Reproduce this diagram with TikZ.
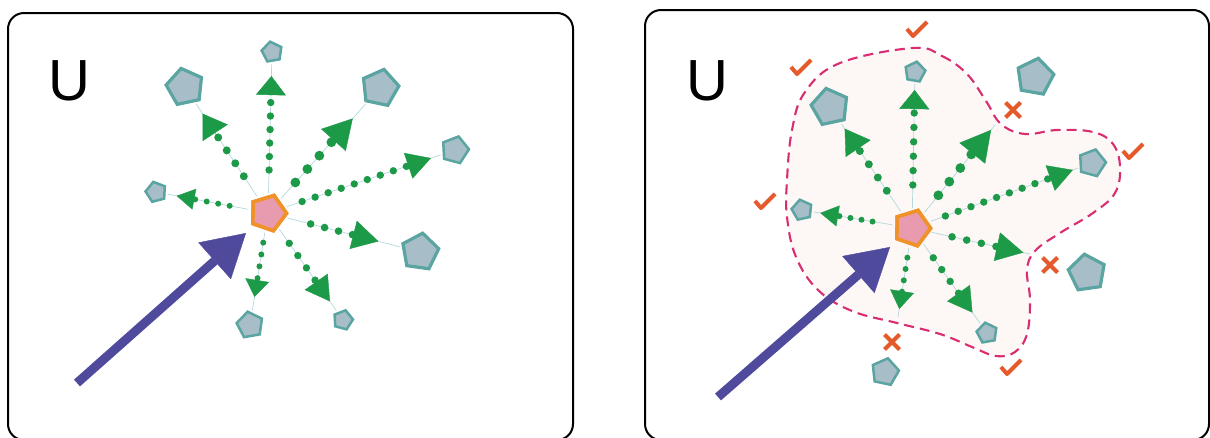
\documentclass[tikz,border=0pt]{standalone}
\usepackage{fontspec}
\setmainfont{Liberation Sans}
\usetikzlibrary{arrows.meta,shapes.geometric,calc}
\definecolor{rayg}{HTML}{1C9A48}
\definecolor{thinc}{HTML}{B3D8DE}
\definecolor{pentf}{HTML}{A7BEC8}
\definecolor{pentb}{HTML}{5AA5A2}
\definecolor{ctrf}{HTML}{E89AAE}
\definecolor{ctrb}{HTML}{F0922A}
\definecolor{bluea}{HTML}{4F4A9C}
\definecolor{markc}{HTML}{E55A2B}
\definecolor{dashc}{HTML}{D92D72}
\definecolor{blobf}{HTML}{FDF7F6}
% #1 from, #2 to, #3 first dot distance, #4 spacing, #5 last dot index,
% #6 dot radius, #7 tip distance, #8 tip length, #9 tip width
\newcommand\dotray[9]{%
  \foreach \i in {0,...,#5}{%
    \pgfmathsetmacro\dd{#3+\i*#4}%
    \fill[rayg] ($(#1)!\dd pt!(#2)$) circle (#6);%
  }%
  \pgfmathsetmacro\da{#7-#8-0.5}%
  \draw[draw=rayg, line width=0.1pt, -{Triangle[length=#8pt,width=#9pt,line width=0.4pt]}]
    ($(#1)!\da pt!(#2)$) -- ($(#1)!#7pt!(#2)$);%
}
\begin{document}
\begin{tikzpicture}[x=1pt,y=-1pt,
  panel/.style={draw=black, line width=2pt, rounded corners=16pt},
  pent/.style={regular polygon, regular polygon sides=5, draw=pentb, fill=pentf, inner sep=0pt, line width=3.2pt, minimum size=#1},
  spent/.style={pent=#1, line width=2.5pt},
  ctr/.style={regular polygon, regular polygon sides=5, draw=ctrb, fill=ctrf, inner sep=0pt, line width=3.6pt, minimum size=37pt, rotate=-19},
  thinl/.style={draw=thinc, line width=0.7pt},
  bluearrow/.style={draw=bluea, line width=9pt, -{Triangle[length=42pt,width=49pt,line width=0.4pt]}},
  letter/.style={font=\fontsize{58}{58}\selectfont, inner sep=0pt, anchor=base west},
  markl/.style={draw=markc, line width=4pt, line join=round},
  blob/.style={draw=dashc, fill=blobf, line width=2.1pt, dash pattern=on 10pt off 6pt},
  chkmark/.pic={\draw[markl] (-9,-1) -- (-3,6) -- (11,-8);},
  xmark/.pic={\draw[markl] (-7.5,-7.5) -- (7.5,7.5) (-7.5,7.5) -- (7.5,-7.5);}
]
\useasboundingbox (0,0) rectangle (1210,437);

% ---------- panels ----------
\draw[panel] (8,13) rectangle (573,440);
\draw[panel] (645,10) rectangle (1209,440);
\node[letter] (U1) at (48.5,100) {U};
\node[letter] (U2) at (686,100) {U};

% ---------- right blob ----------
\draw[blob] plot[smooth cycle, tension=0.65] coordinates {
 (913,48) (942,56) (967,74) (986,101) (1001,124) (1025,134) (1057,130)
 (1093,132) (1113,144) (1120,167) (1115,193) (1093,213) (1060,233)
 (1035,251) (1027,270) (1030,300) (1027,334) (1015,352) (996,356)
 (972,347) (940,334) (897,323) (852,311) (818,290) (796,257) (787,217)
 (787,180) (792,130) (805,92) (840,63)};

% ---------- left panel ----------
\node[ctr] (c1) at (268,213) {};
\node[spent=21, rotate=10]  (L1) at (272,52) {};
\node[pent=38, rotate=12]   (L2) at (185,87) {};
\node[pent=38, rotate=-12]  (L3) at (380,88) {};
\node[spent=28, rotate=-15] (L4) at (455,150) {};
\node[spent=21, rotate=15]  (L5) at (156,192) {};
\node[pent=38, rotate=-8]   (L6) at (420,252) {};
\node[spent=27, rotate=10]  (L7) at (250,325) {};
\node[spent=20, rotate=-15] (L8) at (343,320) {};

\foreach \p in {L1,L2,L3,L4,L5,L6,L7,L8}
  \draw[thinl, shorten <=20pt, shorten >=2pt] (c1.center) -- (\p);

\dotray{c1.center}{L1.center}{43}{13.5}{5}{3.7}{137}{19}{30}
\dotray{c1.center}{L2.center}{44}{15.5}{3}{4}{119}{23}{30}
\dotray{c1.center}{L3.center}{41}{18}{3}{4.9}{127}{29}{33}
\dotray{c1.center}{L4.center}{36}{13.75}{8}{3.7}{172}{24}{27}
\dotray{c1.center}{L5.center}{39}{11.7}{3}{3}{93}{18}{21}
\dotray{c1.center}{L6.center}{44}{14.4}{3}{3.8}{114}{26}{29}
\dotray{c1.center}{L7.center}{30}{12}{3}{3}{85}{17}{24}
\dotray{c1.center}{L8.center}{37}{15}{3}{3.7}{108}{24}{28}

\node[ctr] at (c1) {};
\coordinate (t1) at (77,383);
\coordinate (h1) at (246,233);
\draw[bluearrow] (t1) -- (h1);

% ---------- right panel ----------
\node[ctr] (c2) at (912,228) {};
\node[spent=21, rotate=-10] (R1) at (915,72) {};
\node[pent=38, rotate=12]   (R2) at (830,107) {};
\node[pent=38, rotate=-10]  (R3p) at (1035,77) {};
\node[spent=28, rotate=-15] (R4) at (1092,163) {};
\node[spent=21, rotate=12]  (R5) at (802,210) {};
\node[pent=38, rotate=8]    (R6p) at (1087,273) {};
\node[spent=28, rotate=-12] (R7p) at (885,372) {};
\node[spent=21, rotate=10]  (R8) at (987,333) {};
\coordinate (R3) at (995,125);
\coordinate (R6) at (1030,254);
\coordinate (R7) at (898,317);

\foreach \p in {R1,R2,R4,R5,R8}
  \draw[thinl, shorten <=20pt, shorten >=2pt] (c2.center) -- (\p);
\foreach \p in {R3,R6,R7}
  \draw[thinl, shorten <=20pt] (c2.center) -- (\p);

\dotray{c2.center}{R1.center}{43}{14.4}{5}{3.7}{138}{19}{30}
\dotray{c2.center}{R2.center}{45}{16}{3}{4}{120}{24}{30}
\dotray{c2.center}{R3}{42}{17.5}{3}{4.9}{126}{30}{33}
\dotray{c2.center}{R4.center}{35.5}{13.6}{8}{3.7}{171}{24}{27}
\dotray{c2.center}{R5.center}{40}{11.2}{3}{3}{93}{18}{21}
\dotray{c2.center}{R6}{41}{15}{3}{3.8}{114}{27}{29}
\dotray{c2.center}{R7}{30}{11.5}{3}{3}{82}{18}{24}
\dotray{c2.center}{R8.center}{36.6}{14.5}{3}{3.7}{104}{24}{28}

\node[ctr] at (c2) {};
\coordinate (t2) at (718,397);
\coordinate (h2) at (890,247);
\draw[bluearrow] (t2) -- (h2);

% ---------- marks ----------
\pic at (916,30) {chkmark};
\pic at (800,68) {chkmark};
\pic at (1132,152) {chkmark};
\pic at (764,202) {chkmark};
\pic at (1010,368) {chkmark};
\pic at (1013,110) {xmark};
\pic at (1050,265) {xmark};
\pic at (892,342) {xmark};
\end{tikzpicture}
\end{document}
